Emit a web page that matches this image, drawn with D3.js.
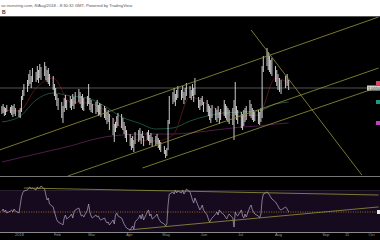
<!DOCTYPE html>
<html>
<head>
<meta charset="utf-8">
<script src="https://cdn.jsdelivr.net/npm/d3@7"></script>
<style>
  body { margin: 0; background: #fff; }
  svg { display: block; font-family: "Liberation Sans", Arial, sans-serif; }
</style>
</head>
<body>
<svg id="chart" width="380" height="240"></svg>
<script>
// daily bars, one per weekday starting from firstDay
const firstDay = "2017-12-18";
const highs = [
  0.987,0.989,0.986,0.985,0.988, 0.986,0.988,0.987,0.989,0.985,
  0.983,0.985,0.997,1.003,1.009, 1.013,1.019,1.023,1.017,1.025,
  1.021,1.027,1.023,1.029,1.026, 1.031,1.027,1.023,1.025,1.019,
  1.017,1.009,1.005,0.999,0.995, 0.991,0.987,0.995,0.998,0.993,
  0.997,0.994,0.999,0.996,1.001, 1.004,1.001,0.997,0.999,0.995,
  0.997,1.009,0.995,0.993,0.989, 0.991,0.993,0.988,0.990,0.989,
  0.987,0.985,0.981,0.983,0.979, 0.975,0.969,0.971,0.977,0.980,
  0.979,0.975,0.971,0.967,0.963, 0.959,0.955,0.957,0.953,0.961,
  0.963,0.965,0.959,0.962,0.957, 0.961,0.963,0.958,0.960,0.956,
  0.957,0.959,0.955,0.953,0.951, 0.947,0.943,0.945,0.973,0.997,
  1.001,1.005,0.999,1.003,1.007, 1.003,1.007,1.001,1.005,1.010,
  1.007,1.003,1.009,1.005,1.015, 0.996,0.993,0.995,0.997,0.991,
  0.993,0.989,0.987,0.985,0.988, 0.985,0.983,0.987,0.981,0.984,
  0.993,0.989,0.987,0.985,0.983, 0.985,0.993,1.011,0.987,0.983,
  0.981,0.979,0.983,0.985,0.987, 0.993,0.989,0.985,0.983,0.981,
  0.983,0.981,0.985,1.027,1.037, 1.045,1.041,1.037,1.033,1.035,
  1.027,1.023,1.019,1.015,1.013, 1.017,1.019,1.013
];
const lows = [
  0.979,0.980,0.977,0.978,0.981, 0.980,0.978,0.976,0.979,0.977,
  0.976,0.975,0.981,0.993,0.997, 1.001,1.007,1.009,1.005,1.011,
  1.011,1.013,1.010,1.015,1.013, 1.017,1.013,1.011,1.009,1.007,
  1.003,0.997,0.993,0.987,0.983, 0.975,0.970,0.981,0.985,0.983,
  0.985,0.983,0.987,0.984,0.989, 0.991,0.989,0.985,0.983,0.982,
  0.987,0.989,0.983,0.981,0.980, 0.979,0.981,0.977,0.978,0.976,
  0.975,0.973,0.969,0.971,0.963, 0.958,0.951,0.961,0.965,0.967,
  0.965,0.963,0.959,0.955,0.951, 0.947,0.943,0.945,0.941,0.949,
  0.951,0.953,0.949,0.955,0.947, 0.953,0.952,0.948,0.950,0.946,
  0.947,0.949,0.945,0.943,0.941, 0.939,0.935,0.937,0.943,0.969,
  0.989,0.991,0.987,0.993,0.995, 0.993,0.995,0.989,0.993,0.997,
  0.995,0.993,0.997,0.991,0.998, 0.985,0.983,0.987,0.988,0.981,
  0.981,0.977,0.973,0.970,0.975, 0.973,0.971,0.975,0.969,0.973,
  0.977,0.975,0.973,0.971,0.969, 0.968,0.953,0.978,0.973,0.969,
  0.965,0.963,0.967,0.971,0.973, 0.977,0.975,0.973,0.971,0.972,
  0.969,0.968,0.971,0.975,1.021, 1.027,1.023,1.021,1.019,1.017,
  1.011,1.007,1.003,1.001,0.999, 1.005,1.007,1.003
];
const rsi = [
  50.9,52.8,50.0,51.9,49.1, 50.9,51.9,50.0,52.8,50.9,
  49.1,56.5,64.0,67.7,69.5, 70.5,72.3,73.3,71.4,72.3,
  70.5,73.3,71.4,72.3,74.2, 71.4,65.8,61.2,63.0,57.4,
  54.7,50.0,46.3,42.6,40.7, 38.8,37.9,44.4,47.2,43.5,
  46.3,48.1,44.4,50.0,51.9, 53.7,50.0,46.3,47.2,45.3,
  51.9,57.4,50.0,46.3,44.4, 47.2,45.3,46.3,43.5,42.6,
  44.4,41.6,39.8,40.7,37.9, 42.6,38.8,47.2,49.1,46.3,
  44.4,41.6,38.8,37.0,35.1, 33.3,35.1,37.0,34.2,40.7,
  44.4,47.2,43.5,48.1,42.6, 50.0,51.9,46.3,48.1,43.5,
  46.3,48.1,44.4,42.6,40.7, 38.8,37.0,38.8,56.5,66.7,
  68.6,66.7,70.5,67.7,69.5, 67.7,70.5,66.7,68.6,71.4,
  68.6,64.9,61.2,58.4,63.0, 54.7,51.9,53.7,56.5,51.9,
  47.2,43.5,40.7,42.6,44.4, 48.1,50.0,47.2,51.9,50.0,
  47.2,45.3,43.5,46.3,48.1, 44.4,36.0,50.0,47.2,46.3,
  51.9,46.3,44.4,48.1,45.3, 54.7,56.5,51.9,50.0,48.1,
  46.3,44.4,48.1,61.2,66.7, 68.6,67.7,65.8,64.0,62.1,
  59.3,57.4,55.6,52.8,51.9, 54.7,52.8,50.0
];

// moving averages, sampled every two weeks
const maDates = ["2017-12-18","2018-01-01","2018-01-15","2018-01-29","2018-02-12","2018-02-26",
  "2018-03-12","2018-03-26","2018-04-09","2018-04-23","2018-05-07","2018-05-21","2018-06-04",
  "2018-06-18","2018-07-02","2018-07-16","2018-07-30","2018-08-08"];
const maFast = [0.983,0.982,1.005,1.015,0.991,0.990,0.983,0.965,0.953,0.952,0.958,0.996,0.989,0.980,0.977,0.978,1.015,1.010];
const maMid  = [0.971,0.976,0.993,1.000,0.997,0.995,0.987,0.976,0.970,0.964,0.965,0.972,0.977,0.980,0.981,0.982,0.989,0.991];
const maSlow = [0.931,0.935,0.939,0.943,0.947,0.952,0.956,0.958,0.959,0.959,0.959,0.960,0.962,0.964,0.966,0.967,0.969,0.970];

const lastPrice = 1.005;

// drawn trend lines: [date, price] pairs
const priceLines = [
  [["2017-12-16", 0.943], ["2018-10-06", 1.076]],
  [["2018-02-10", 0.917], ["2018-10-06", 1.025]],
  [["2018-04-12", 0.925], ["2018-10-06", 1.006]],
  [["2018-07-10", 1.063], ["2018-09-25", 0.918]]
];
const rsiLines = [
  [["2018-01-05", 72.3], ["2018-10-06", 65.8]],
  [["2018-04-01", 33.3], ["2018-10-06", 54.7]]
];

const tickDates = ["2018-01-01","2018-02-01","2018-03-01","2018-04-01","2018-05-01","2018-06-01",
  "2018-07-01","2018-08-01","2018-09-01","2018-09-15","2018-10-01"];
const tickLabels = ["2018","Feb","Mar","Apr","May","Jun","Jul","Aug","Sep","15","Oct"];

const headerText = "so investing.com, 8/Aug/2018 - 8:30:32 GMT, Powered by TradingView";

const parse = d3.utcParse("%Y-%m-%d");
const width = 380, paneTop = 17, mainBottom = 176, rsiTop = 177, rsiBottom = 232;

// weekday dates for bars
const days = [];
let d = parse(firstDay);
while (days.length < highs.length) {
  const wd = d.getUTCDay();
  if (wd !== 0 && wd !== 6) days.push(d);
  d = d3.utcDay.offset(d, 1);
}

const svg = d3.select("#chart");

svg.append("rect").attr("x", 0).attr("y", paneTop).attr("width", width).attr("height", 240 - paneTop).attr("fill", "#000");
svg.append("line").attr("x1", 0).attr("x2", width).attr("y1", paneTop - 0.5).attr("y2", paneTop - 0.5).attr("stroke", "#555");

svg.append("text").attr("x", 1).attr("y", 6.5).attr("font-size", 4.2).attr("fill", "#555").text(headerText);
svg.append("text").attr("x", 2).attr("y", 13.5).attr("font-size", 5).attr("font-weight", "bold").attr("fill", "#333").text("B");

const x = d3.scaleUtc()
  .domain([parse("2018-01-01"), parse("2018-08-01"), parse("2018-10-01")])
  .range([19, 278, 371]);
const y = d3.scaleLinear().domain([0.917, 1.076]).range([mainBottom, paneTop]);
const yr = d3.scaleLinear().domain([30, 70]).range([233.5, 190.5]);

const defs = svg.append("defs");
defs.append("clipPath").attr("id", "clipMain").append("rect")
  .attr("x", 0).attr("y", paneTop).attr("width", width).attr("height", mainBottom - paneTop);
defs.append("clipPath").attr("id", "clipRsi").append("rect")
  .attr("x", 0).attr("y", rsiTop).attr("width", width).attr("height", rsiBottom - rsiTop);

const main = svg.append("g").attr("clip-path", "url(#clipMain)");

const maLine = (vals) => d3.line()
  .x((v, i) => x(parse(maDates[i])))
  .y(v => y(v))
  .curve(d3.curveMonotoneX)(vals);

main.append("path").attr("d", maLine(maSlow)).attr("fill", "none").attr("stroke", "#4e1c48").attr("stroke-width", 1);
main.append("path").attr("d", maLine(maMid)).attr("fill", "none").attr("stroke", "#1a5040").attr("stroke-width", 1);
main.append("path").attr("d", maLine(maFast)).attr("fill", "none").attr("stroke", "#5a181c").attr("stroke-width", 0.9);

main.append("line").attr("x1", 0).attr("x2", width)
  .attr("y1", y(lastPrice)).attr("y2", y(lastPrice))
  .attr("stroke", "#8a8a8a").attr("stroke-width", 0.6);

main.selectAll("line.bar").data(days).enter().append("line")
  .attr("class", "bar")
  .attr("x1", (t) => x(t)).attr("x2", (t) => x(t))
  .attr("y1", (t, i) => y(highs[i])).attr("y2", (t, i) => y(lows[i]))
  .attr("stroke", "#e2e2e2").attr("stroke-width", 0.9);

main.selectAll("line.trend").data(priceLines).enter().append("line")
  .attr("class", "trend")
  .attr("x1", (l) => x(parse(l[0][0]))).attr("y1", (l) => y(l[0][1]))
  .attr("x2", (l) => x(parse(l[1][0]))).attr("y2", (l) => y(l[1][1]))
  .attr("stroke", "#96963a").attr("stroke-width", 0.8);

svg.append("line").attr("x1", 0).attr("x2", width).attr("y1", mainBottom + 0.5).attr("y2", mainBottom + 0.5)
  .attr("stroke", "#777").attr("stroke-width", 1);

// RSI pane
const rp = svg.append("g").attr("clip-path", "url(#clipRsi)");
rp.append("rect").attr("x", 0).attr("y", yr(70)).attr("width", width).attr("height", yr(30) - yr(70))
  .attr("fill", "#150a1e");
rp.append("line").attr("x1", 0).attr("x2", width).attr("y1", yr(70)).attr("y2", yr(70))
  .attr("stroke", "#3c3046").attr("stroke-width", 0.6);
rp.append("line").attr("x1", 0).attr("x2", width).attr("y1", yr(50)).attr("y2", yr(50))
  .attr("stroke", "#c27a32").attr("stroke-width", 0.8).attr("stroke-dasharray", "1,1.4");

rp.append("path")
  .attr("d", d3.line().x((v, i) => x(days[i])).y(v => yr(v))(rsi))
  .attr("fill", "none").attr("stroke", "#b4a8c6").attr("stroke-width", 0.7);

rp.selectAll("line.trend").data(rsiLines).enter().append("line")
  .attr("class", "trend")
  .attr("x1", (l) => x(parse(l[0][0]))).attr("y1", (l) => yr(l[0][1]))
  .attr("x2", (l) => x(parse(l[1][0]))).attr("y2", (l) => yr(l[1][1]))
  .attr("stroke", "#96963a").attr("stroke-width", 0.8);

// right edge tags
const tag = (yy, color, w) => svg.append("rect")
  .attr("x", width - w).attr("y", yy - 2).attr("width", w).attr("height", 4).attr("fill", color);
tag(y(maFast[maFast.length - 1]), "#e0405a", 4);
tag(y(maMid[maMid.length - 1]), "#1a9a80", 4);
tag(y(maSlow[maSlow.length - 1]), "#c040c0", 4);
tag(yr(rsi[rsi.length - 1]), "#e8e8e8", 3);
svg.append("rect").attr("x", 367).attr("y", y(lastPrice) - 2.5).attr("width", 13).attr("height", 5).attr("fill", "#cfcfcf");
svg.append("text").attr("x", 368).attr("y", y(lastPrice) + 1.5).attr("font-size", 4).attr("fill", "#333").text(d3.format(".4f")(lastPrice));

// time axis
const axis = svg.append("g").attr("transform", `translate(0,${rsiBottom})`)
  .call(d3.axisBottom(x).tickValues(tickDates.map(parse)).tickSize(0)
    .tickFormat((t, i) => tickLabels[i]));
axis.select(".domain").attr("stroke", "#8a8a8a").attr("d", `M0,0.5H${width}`);
axis.selectAll("text").attr("font-size", 4).attr("fill", "#9a9a9a").attr("dy", "0.3em")
  .attr("font-family", "Liberation Sans, Arial, sans-serif");
</script>
</body>
</html>
